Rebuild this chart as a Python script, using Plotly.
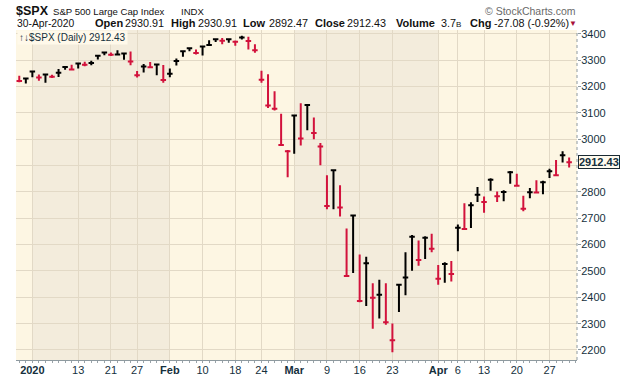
import plotly.graph_objects as go

# ---- data (S&P 500 daily, HLC) ----
dates = [
    "2019-12-30", "2019-12-31",
    "2020-01-02", "2020-01-03", "2020-01-06", "2020-01-07", "2020-01-08", "2020-01-09", "2020-01-10",
    "2020-01-13", "2020-01-14", "2020-01-15", "2020-01-16", "2020-01-17", "2020-01-21", "2020-01-22",
    "2020-01-23", "2020-01-24", "2020-01-27", "2020-01-28", "2020-01-29", "2020-01-30", "2020-01-31",
    "2020-02-03", "2020-02-04", "2020-02-05", "2020-02-06", "2020-02-07", "2020-02-10", "2020-02-11",
    "2020-02-12", "2020-02-13", "2020-02-14", "2020-02-18", "2020-02-19", "2020-02-20", "2020-02-21",
    "2020-02-24", "2020-02-25", "2020-02-26", "2020-02-27", "2020-02-28",
    "2020-03-02", "2020-03-03", "2020-03-04", "2020-03-05", "2020-03-06", "2020-03-09", "2020-03-10",
    "2020-03-11", "2020-03-12", "2020-03-13", "2020-03-16", "2020-03-17", "2020-03-18", "2020-03-19",
    "2020-03-20", "2020-03-23", "2020-03-24", "2020-03-25", "2020-03-26", "2020-03-27", "2020-03-30",
    "2020-03-31",
    "2020-04-01", "2020-04-02", "2020-04-03", "2020-04-06", "2020-04-07", "2020-04-08", "2020-04-09",
    "2020-04-13", "2020-04-14", "2020-04-15", "2020-04-16", "2020-04-17", "2020-04-20", "2020-04-21",
    "2020-04-22", "2020-04-23", "2020-04-24", "2020-04-27", "2020-04-28", "2020-04-29", "2020-04-30",
]
highs = [
    3240.92, 3231.72,
    3258.14, 3246.15, 3246.84, 3244.91, 3267.07, 3275.58, 3282.99,
    3288.13, 3294.25, 3298.66, 3317.11, 3329.88, 3329.79, 3337.77,
    3326.88, 3333.18, 3258.85, 3285.78, 3293.47, 3285.91, 3282.33,
    3268.44, 3306.92, 3337.58, 3347.96, 3341.42, 3352.26, 3375.63,
    3381.47, 3385.09, 3380.69, 3375.01, 3393.52, 3389.15, 3360.76,
    3259.81, 3246.99, 3182.51, 3097.07, 2959.72,
    3090.96, 3136.72, 3130.97, 3083.04, 2985.93, 2863.89, 2882.59,
    2825.60, 2660.95, 2711.33, 2562.98, 2553.93, 2453.57, 2466.97,
    2453.01, 2300.73, 2449.71, 2571.42, 2637.01, 2615.91, 2631.80,
    2641.39,
    2522.75, 2533.22, 2538.18, 2676.85, 2756.89, 2760.75, 2818.57,
    2782.46, 2851.85, 2801.88, 2806.51, 2879.22, 2868.98, 2785.54,
    2815.10, 2844.90, 2842.71, 2887.72, 2921.15, 2954.86, 2930.91,
]
lows = [
    3216.57, 3212.03,
    3235.53, 3222.34, 3214.64, 3232.43, 3236.67, 3263.67, 3260.86,
    3268.43, 3277.19, 3280.69, 3302.82, 3318.86, 3316.61, 3320.04,
    3301.87, 3281.53, 3234.50, 3253.22, 3271.89, 3242.80, 3214.68,
    3235.66, 3280.61, 3313.75, 3334.39, 3322.12, 3317.77, 3355.61,
    3369.72, 3360.52, 3366.15, 3355.61, 3378.83, 3341.02, 3328.45,
    3214.65, 3118.77, 3108.99, 2977.39, 2855.84,
    2945.19, 2976.63, 3034.38, 2999.83, 2901.54, 2734.43, 2734.00,
    2707.22, 2478.86, 2492.37, 2380.94, 2367.04, 2280.52, 2319.78,
    2295.56, 2191.86, 2344.44, 2407.53, 2500.72, 2520.02, 2545.28,
    2571.15,
    2447.49, 2455.79, 2459.96, 2574.57, 2657.67, 2663.30, 2762.36,
    2721.17, 2805.10, 2761.54, 2764.32, 2830.88, 2820.43, 2727.10,
    2775.95, 2794.26, 2791.76, 2852.89, 2860.71, 2912.16, 2892.47,
]
closes = [
    3221.29, 3230.78,
    3257.85, 3234.85, 3246.28, 3237.18, 3253.05, 3274.70, 3265.35,
    3288.13, 3283.15, 3289.29, 3316.81, 3329.62, 3320.79, 3321.75,
    3325.54, 3295.47, 3243.63, 3276.24, 3273.40, 3283.66, 3225.52,
    3248.92, 3297.59, 3334.69, 3345.78, 3327.71, 3352.09, 3357.75,
    3379.45, 3373.94, 3380.16, 3370.29, 3386.15, 3373.23, 3337.75,
    3225.89, 3128.21, 3116.39, 2978.76, 2954.22,
    3090.23, 3003.37, 3130.12, 3023.94, 2972.37, 2746.56, 2882.23,
    2741.38, 2480.64, 2711.02, 2386.13, 2529.19, 2398.10, 2409.39,
    2304.92, 2237.40, 2447.33, 2475.56, 2630.07, 2541.47, 2626.65,
    2584.59,
    2470.50, 2526.90, 2488.65, 2663.68, 2659.41, 2749.98, 2789.82,
    2761.63, 2846.06, 2783.36, 2799.55, 2874.56, 2823.16, 2736.56,
    2799.31, 2797.80, 2836.74, 2878.48, 2863.39, 2939.51, 2912.43,
]
prev_close_before_first = 3240.02
last_open = 2930.91
last_volume = "3.7"

tick_dates = ["2020-01-02", "2020-01-13", "2020-01-21", "2020-01-27", "2020-02-03", "2020-02-10",
              "2020-02-18", "2020-02-24", "2020-03-02", "2020-03-09", "2020-03-16", "2020-03-23",
              "2020-04-01", "2020-04-06", "2020-04-13", "2020-04-20", "2020-04-27"]
tick_labels = ["<b>2020</b>", "13", "21", "27", "<b>Feb</b>", "10", "18", "24", "<b>Mar</b>", "9",
               "16", "23", "<b>Apr</b>", "6", "13", "20", "27"]
y_ticks = [2200, 2300, 2400, 2500, 2600, 2700, 2800, 2900, 3000, 3100, 3200, 3300, 3400]
# 2900 label is hidden behind the last-price marker in the reference
y_tick_text = ["2200", "2300", "2400", "2500", "2600", "2700", "2800", "", "3000", "3100",
               "3200", "3300", "3400"]

# ---- styling ----
RED = "#D2123C"
BLACK = "#000000"
BG_LIGHT = "#FDF6E3"
BG_DARK = "#F3ECDC"
GRID = "#E2D9C6"
TXT = "#15303D"
FONT = "Liberation Sans, Arial, sans-serif"

idx = list(range(len(dates)))
prev = [prev_close_before_first] + closes[:-1]
up = [i for i in idx if closes[i] >= prev[i]]
dn = [i for i in idx if closes[i] < prev[i]]

fig = go.Figure()
for sel, col in ((up, BLACK), (dn, RED)):
    fig.add_trace(go.Ohlc(
        x=sel,
        open=[closes[i] for i in sel],
        high=[highs[i] for i in sel],
        low=[lows[i] for i in sel],
        close=[closes[i] for i in sel],
        increasing=dict(line=dict(color=col, width=2)),
        decreasing=dict(line=dict(color=col, width=2)),
        tickwidth=0.42,
        showlegend=False,
        hoverinfo="skip",
    ))

# month shading (Jan and Mar darker)
month_starts = [i for i in idx if i == 0 or dates[i][5:7] != dates[i - 1][5:7]]
shapes = []
for k, s in enumerate(month_starts):
    m = dates[s][5:7]
    if m in ("01", "03"):
        e = month_starts[k + 1] if k + 1 < len(month_starts) else len(dates)
        shapes.append(dict(type="rect", xref="x", yref="paper", x0=s, x1=e, y0=0, y1=1,
                           fillcolor=BG_DARK, line=dict(width=0), layer="below"))
# dotted right axis line
shapes.append(dict(type="line", xref="paper", yref="paper", x0=1, x1=1, y0=0, y1=1,
                   line=dict(color="#8E9AA0", width=1, dash="dot")))

tickvals = [dates.index(d) for d in tick_dates]

W, H = 620, 376
ML, MR, MT, MB = 16, 43, 30, 16

fig.update_layout(
    width=W, height=H,
    margin=dict(l=ML, r=MR, t=MT, b=MB, autoexpand=False),
    paper_bgcolor="white",
    plot_bgcolor=BG_LIGHT,
    font=dict(family=FONT, color=TXT, size=11),
    shapes=shapes,
    xaxis=dict(
        range=[-0.5, 85.2],
        tickvals=tickvals, ticktext=tick_labels,
        showgrid=True, gridcolor=GRID, gridwidth=1,
        zeroline=False,
        showline=True, linecolor="#8E9AA0", linewidth=1,
        ticks="", tickfont=dict(size=11, color=TXT),
        minor=dict(dtick=1, tick0=0, ticks="outside", ticklen=2, tickcolor="#9AA3A8", showgrid=False),
        rangeslider=dict(visible=False),
        fixedrange=True,
    ),
    yaxis=dict(
        side="right",
        range=[2162, 3415],
        tickvals=y_ticks, ticktext=y_tick_text,
        showgrid=True, gridcolor=GRID, gridwidth=1,
        zeroline=False,
        showline=False,
        ticks="outside", ticklen=3, tickcolor="#8E9AA0",
        tickfont=dict(size=11, color=TXT),
        ticklabelstandoff=-2,
        fixedrange=True,
    ),
)

pw, ph = W - ML - MR, H - MT - MB


def px(xp):
    return (xp - ML) / pw


def py(yp):
    return (H - MB - yp) / ph


def text(t, x, y, size, color="#111111", bold=False, anchor="left"):
    fig.add_annotation(text=("<b>%s</b>" % t) if bold else t, x=px(x), y=py(y),
                       xref="paper", yref="paper", xanchor=anchor, yanchor="middle",
                       showarrow=False, borderpad=0,
                       font=dict(size=size, color=color, family=FONT))


last = closes[-1]
chg = closes[-1] - closes[-2]
pct = chg / closes[-2] * 100

# header line 1
text("$SPX", 15, 11, 12.5, bold=True)
text("S&P 500 Large Cap Index", 52, 11.5, 9.6)
text("INDX", 180, 11.5, 9.6)
text("© StockCharts.com", 577, 10.5, 10.5, color="#6A6A6A", anchor="right")
# header line 2
y2 = 23.5
text("30-Apr-2020", 16, y2, 10.3)
pieces = [
    ("Open", 94, True), ("%.2f" % last_open, 124, False),
    ("High", 170, True), ("%.2f" % highs[-1], 197, False),
    ("Low", 242, True), ("%.2f" % lows[-1], 268, False),
    ("Close", 314, True), ("%.2f" % last, 346, False),
    ("Volume", 395, True), (last_volume + "<span style='font-size:8px'>B</span>", 440, False),
    ("Chg", 469, True), ("%.2f (%.2f%%)" % (chg, pct), 493, False),
]
for t, x, b in pieces:
    text(t, x, y2, 11 if b else 10.8, bold=b)
text("▼", 568, y2, 8, color="#A8103A")

# legend box in plot
fig.add_annotation(text="↑↓$SPX (Daily) %.2f" % last, x=px(17), y=py(30), xref="paper", yref="paper",
                   xanchor="left", yanchor="top", showarrow=False, bgcolor="#FFF9EA",
                   borderpad=1, font=dict(size=10, color=TXT, family=FONT))
# last price marker on right axis
fig.add_annotation(text="<b>%.2f</b>" % last, x=1, y=last, xref="paper", yref="y",
                   xanchor="left", yanchor="middle", xshift=1, showarrow=False,
                   bgcolor="#FFFBEF", bordercolor="#1A2A33", borderwidth=1, borderpad=0,
                   font=dict(size=11, color=TXT, family=FONT))

fig.write_html("out.html", include_plotlyjs=True,
               config={"displayModeBar": False, "staticPlot": True},
               post_script="document.body.style.margin='0';document.body.style.overflow='hidden';")
